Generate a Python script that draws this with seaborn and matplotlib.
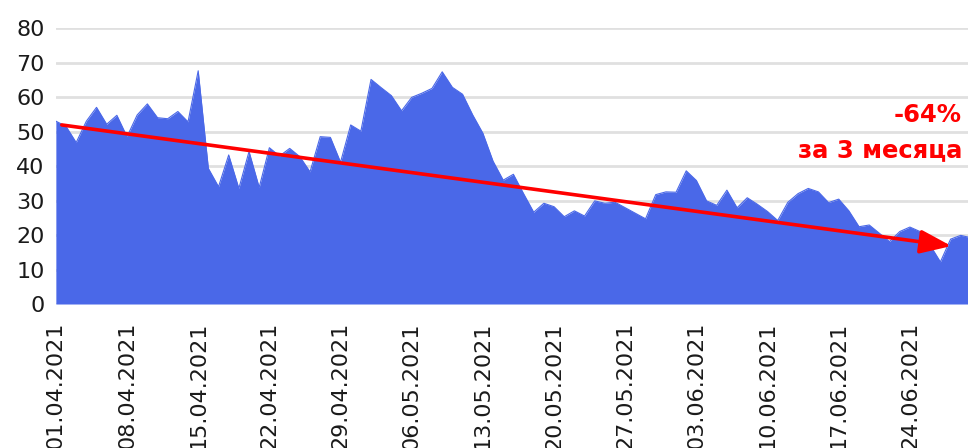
import pandas as pd
import numpy as np
import matplotlib
matplotlib.use('Agg')
import matplotlib.pyplot as plt
import matplotlib.dates as mdates
import seaborn as sns

# daily values, 01.04.2021 - 30.06.2021
START_DATE = '2021-04-01'
VALUES = [53.0, 51.5, 46.8, 53.0, 57.0, 52.1, 54.7, 48.5, 54.8, 58.0,
          54.0, 53.7, 55.8, 52.8, 67.6, 39.3, 34.0, 43.2, 33.5, 44.2,
          33.8, 45.3, 42.9, 45.1, 42.7, 38.3, 48.5, 48.3, 41.1, 51.9,
          50.1, 65.1, 62.7, 60.4, 56.0, 59.9, 61.1, 62.5, 67.3, 62.8,
          60.8, 54.8, 49.5, 41.4, 35.9, 37.6, 32.0, 26.6, 29.2, 28.2,
          25.3, 27.0, 25.5, 29.9, 29.2, 29.5, 27.9, 26.3, 24.7, 31.7,
          32.5, 32.4, 38.6, 35.8, 29.9, 28.6, 33.0, 27.9, 30.8, 28.9,
          26.8, 24.2, 29.5, 32.0, 33.5, 32.5, 29.4, 30.4, 27.0, 22.4,
          22.9, 20.5, 18.1, 21.0, 22.3, 21.0, 17.0, 12.2, 18.8, 19.9,
          19.2]
Y_TICKS = [0, 10, 20, 30, 40, 50, 60, 70, 80]

# trend arrow (start / end value) and label
TREND_START = 51.9
TREND_END = 16.8
LABEL_PCT = '-64%'
LABEL_PERIOD = 'за 3 месяца'

AREA_COLOR = '#4a68e8'
RED = '#ff0000'

sns.set_theme(style='white')
plt.rcParams['font.family'] = ['DejaVu Sans']

df = pd.DataFrame({
    'date': pd.date_range(START_DATE, periods=len(VALUES), freq='D'),
    'value': VALUES,
})

fig = plt.figure(figsize=(9.68, 4.48), dpi=100)
ax = fig.add_axes([0.0577, 0.3214, 0.9453, 0.6161])

ax.fill_between(df['date'], df['value'], 0, color=AREA_COLOR, linewidth=0, zorder=2)
sns.lineplot(data=df, x='date', y='value', ax=ax, color=AREA_COLOR,
             linewidth=0.8, zorder=3)

ax.set_xlim(df['date'].iloc[0], df['date'].iloc[-1])
ax.set_ylim(0, 80)
ax.set_yticks(Y_TICKS)
ax.yaxis.grid(True, color='#e0e0e0', linewidth=2, zorder=0)
ax.xaxis.grid(False)
ax.set_axisbelow(True)
for s in ax.spines.values():
    s.set_visible(False)

ax.set_xticks(df['date'].iloc[::7])
ax.xaxis.set_major_formatter(mdates.DateFormatter('%d.%m.%Y'))
plt.setp(ax.get_xticklabels(), rotation=90)
ax.tick_params(axis='x', length=0, pad=13, labelsize=16, labelcolor='#1a1a1a')
ax.tick_params(axis='y', length=0, pad=8, labelsize=16, labelcolor='#1a1a1a')
ax.set_xlabel('')
ax.set_ylabel('')

# trend arrow
t0 = df['date'].iloc[0] + pd.Timedelta(hours=14)
t1 = df['date'].iloc[88] + pd.Timedelta(hours=2)
ax.annotate('', xy=(t1, TREND_END), xytext=(t0, TREND_START),
            arrowprops=dict(arrowstyle='-|>,head_length=0.95,head_width=0.36',
                            mutation_scale=20, color=RED, lw=2.6,
                            shrinkA=0, shrinkB=0),
            zorder=5)

fig.text(962 / 968, 1 - 115 / 448, LABEL_PCT, ha='right', va='center',
         color=RED, fontsize=17.5, fontweight='bold')
fig.text(962 / 968, 1 - 150 / 448, LABEL_PERIOD, ha='right', va='center',
         color=RED, fontsize=17.5, fontweight='bold')

fig.savefig('out.png', dpi=100)
plt.close(fig)
